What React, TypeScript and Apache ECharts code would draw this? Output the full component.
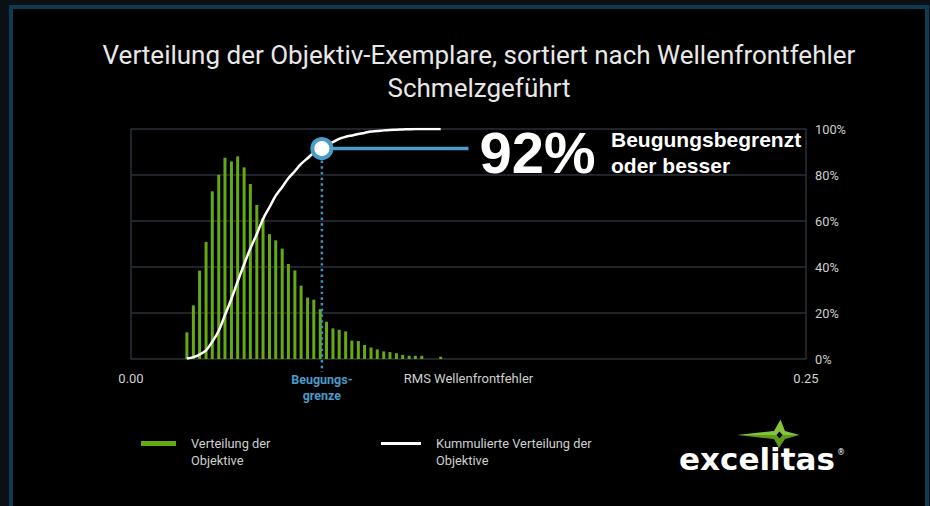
import React, { useEffect, useRef } from "react";
import * as echarts from "echarts";

// RMS wavefront error bin centres (x axis, waves RMS)
const binCenters = [
  0.0207, 0.0231, 0.0254, 0.0278, 0.0301, 0.0325, 0.0348, 0.0372, 0.0395, 0.0419,
  0.0442, 0.0466, 0.0489, 0.0513, 0.0536, 0.056, 0.0583, 0.0607, 0.063, 0.0654,
  0.0677, 0.0701, 0.0724, 0.0748, 0.0771, 0.0795, 0.0818, 0.0842, 0.0865, 0.0889,
  0.0912, 0.0936, 0.0959, 0.0983, 0.1006, 0.103, 0.1053, 0.1077, 0.11, 0.1124, 0.1147,
];
// Distribution of lens samples (relative height)
const distribution = [
  11.6, 23.3, 38.4, 50.9, 72.9, 80.1, 87.5, 85.9, 88.1, 83.3,
  76.1, 67.0, 61.3, 54.3, 51.6, 48.0, 41.3, 38.5, 31.9, 26.7,
  25.8, 21.7, 16.2, 13.3, 12.7, 12.0, 8.0, 7.8, 6.1, 5.0,
  4.2, 3.3, 3.0, 2.5, 1.8, 1.4, 1.4, 1.4, 0, 0, 1.0,
];
// Cumulative distribution (%)
const cumulative = [
  0.2, 0.8, 1.9, 3.8, 7.5, 12.3, 19.1, 26.2, 33.7, 41.2,
  48.0, 54.3, 60.9, 66.0, 71.0, 74.8, 78.6, 81.7, 84.8, 87.3,
  89.7, 91.4, 92.9, 94.3, 95.7, 96.6, 97.2, 97.8, 98.3, 98.9,
  99.1, 99.4, 99.6, 99.7, 99.8, 99.9, 100, 100, 100, 100, 100,
];
const diffractionLimit = 0.0707; // Beugungsgrenze
const markerShare = 91.5; // point on cumulative curve
const calloutEndX = 0.125;
const shareLabel = "92%";
const xTicks = [0, 0.25];
const yTicks = [0, 20, 40, 60, 80, 100];

const seriesBarName = "Verteilung der Objektive";
const seriesLineName = "Kummulierte Verteilung der Objektive";

const BLUE = "#4a9ccb";
const GREEN = "#67a815";
const GRIDC = "#2a3038";
const LABELC = "#cfcfcf";

export default function App() {
  const ref = useRef<HTMLDivElement>(null);
  useEffect(() => {
    document.body.style.margin = "0";
    const chart = echarts.init(ref.current!, null, { renderer: "svg" });
    const legendText = { color: LABELC, fontSize: 12.8, lineHeight: 17, padding: [0, 0, 0, 10], fontFamily: "Roboto" };
    const option: any = {
      animation: false,
      backgroundColor: "#0a1016",
      textStyle: { fontFamily: "Roboto" },
      title: {
        text: "Verteilung der Objektiv-Exemplare, sortiert nach Wellenfrontfehler\nSchmelzgeführt",
        left: 479,
        top: 38,
        textAlign: "center",
        padding: 0,
        textStyle: { color: "#e8e8e8", fontSize: 26, fontWeight: "normal", lineHeight: 33, fontFamily: "Roboto" },
      },
      legend: [
        {
          data: [seriesBarName],
          left: 141,
          top: 418,
          padding: 0,
          icon: "rect",
          itemWidth: 35,
          itemHeight: 5,
          formatter: () => "\nVerteilung der\nObjektive",
          textStyle: legendText,
        },
        {
          data: [seriesLineName],
          left: 381,
          top: 418,
          padding: 0,
          icon: "rect",
          itemWidth: 40,
          itemHeight: 3,
          formatter: () => "\nKummulierte Verteilung der\nObjektive",
          textStyle: legendText,
        },
      ],
      grid: { left: 131, right: 124, top: 129, bottom: 147, outerBoundsMode: "none" },
      xAxis: {
        type: "value",
        min: xTicks[0],
        max: xTicks[xTicks.length - 1],
        interval: xTicks[1] - xTicks[0],
        axisLine: { show: false },
        axisTick: { show: false },
        splitLine: { show: true, lineStyle: { color: GRIDC, width: 1.5 } },
        axisLabel: { color: LABELC, fontSize: 13, margin: 13, formatter: (v: number) => v.toFixed(2) },
        name: "RMS Wellenfrontfehler",
        nameLocation: "middle",
        nameGap: 13,
        nameMoveOverlap: false,
        nameTextStyle: { color: LABELC, fontSize: 13, verticalAlign: "top" },
      },
      yAxis: [
        {
          type: "value",
          position: "right",
          min: yTicks[0],
          max: yTicks[yTicks.length - 1],
          interval: yTicks[1] - yTicks[0],
          axisLine: { show: false },
          axisTick: { show: false },
          splitLine: { show: true, lineStyle: { color: GRIDC, width: 1.5 } },
          axisLabel: { color: LABELC, fontSize: 12.8, margin: 9, formatter: "{value}%" },
        },
        {
          type: "value",
          position: "left",
          min: 0,
          max: 100,
          show: false,
          splitLine: { show: false },
        },
      ],
      series: [
        {
          name: seriesBarName,
          type: "bar",
          yAxisIndex: 1,
          barWidth: 3,
          itemStyle: { color: GREEN },
          data: binCenters.map((x, i) => [x, distribution[i]]),
          z: 2,
        },
        {
          name: seriesLineName,
          type: "line",
          smooth: 0.35,
          showSymbol: false,
          lineStyle: { color: "#ffffff", width: 2.5 },
          itemStyle: { color: "#ffffff" },
          data: binCenters.map((x, i) => [x, cumulative[i]]),
          z: 3,
        },
        {
          name: "callout",
          type: "line",
          showSymbol: false,
          lineStyle: { color: BLUE, width: 3.5 },
          data: [
            [diffractionLimit, markerShare],
            [calloutEndX, markerShare],
          ],
          z: 4,
        },
        {
          name: "marker",
          type: "scatter",
          symbol: "circle",
          symbolSize: 19,
          itemStyle: { color: "#ffffff", borderColor: BLUE, borderWidth: 4, opacity: 1 },
          data: [[diffractionLimit, markerShare]],
          z: 6,
        },
      ],
    };
    chart.setOption(option);

    const p0 = chart.convertToPixel({ gridIndex: 0 }, [diffractionLimit, 0]) as number[];
    const p1 = chart.convertToPixel({ gridIndex: 0 }, [diffractionLimit, markerShare]) as number[];
    const p2 = chart.convertToPixel({ gridIndex: 0 }, [calloutEndX, markerShare]) as number[];

    chart.setOption({
      graphic: [
        {
          type: "rect",
          z: -100,
          silent: true,
          shape: { x: 11, y: 7, width: 916, height: 520 },
          style: { fill: "#000000", stroke: "#0e3a52", lineWidth: 4 },
        },
        {
          type: "line",
          z: 50,
          silent: true,
          shape: { x1: p1[0], y1: p1[1] + 12, x2: p0[0], y2: p0[1] + 13 },
          style: { stroke: "#3b93c4", lineWidth: 2.5, lineDash: [2.4, 3.3] },
        },
        {
          type: "text",
          z: 50,
          x: p0[0],
          y: p0[1] + 12,
          style: {
            text: "Beugungs-\ngrenze",
            fill: BLUE,
            fontSize: 12.5,
            fontWeight: "bold",
            fontFamily: "Roboto",
            lineHeight: 16,
            align: "center",
            verticalAlign: "top",
          },
        },
        {
          type: "text",
          z: 50,
          x: p2[0] + 11,
          y: p2[1] + 4,
          style: {
            text: shareLabel,
            fill: "#ffffff",
            fontSize: 58,
            fontWeight: "bold",
            fontFamily: "Liberation Sans",
            align: "left",
            verticalAlign: "middle",
          },
        },
        {
          type: "text",
          z: 50,
          x: 611,
          y: p2[1] + 4,
          style: {
            text: "Beugungsbegrenzt\noder besser",
            fill: "#ffffff",
            fontSize: 21,
            fontWeight: "bold",
            fontFamily: "Liberation Sans",
            lineHeight: 26,
            align: "left",
            verticalAlign: "middle",
          },
        },
        // excelitas logo
        {
          type: "polygon",
          z: 50,
          silent: true,
          shape: { points: [[737, 435], [774, 431], [780.5, 419.5], [785, 431], [799.5, 435]] },
          style: { fill: "#86c33c" },
        },
        {
          type: "polygon",
          z: 50,
          silent: true,
          shape: { points: [[737, 435], [799.5, 435], [785, 439], [779, 448], [774, 439]] },
          style: { fill: "#5c9c1a" },
        },
        {
          type: "polygon",
          z: 51,
          silent: true,
          shape: { points: [[779.5, 431.5], [782.5, 435], [779.5, 438.5], [776.5, 435]] },
          style: { fill: "#000000" },
        },
        {
          type: "text",
          z: 50,
          x: 679,
          y: 459,
          style: {
            text: "excelitas",
            fill: "#ffffff",
            fontSize: 31,
            fontWeight: "bold",
            fontFamily: "DejaVu Sans",
            align: "left",
            verticalAlign: "middle",
          },
        },
        {
          type: "text",
          z: 50,
          x: 837,
          y: 452,
          style: { text: "®", fill: "#ffffff", fontSize: 8, fontFamily: "DejaVu Sans", align: "left", verticalAlign: "middle" },
        },
      ],
    });

    return () => chart.dispose();
  }, []);
  return <div ref={ref} style={{ position: "absolute", left: 0, top: 0, width: 930, height: 506 }} />;
}
